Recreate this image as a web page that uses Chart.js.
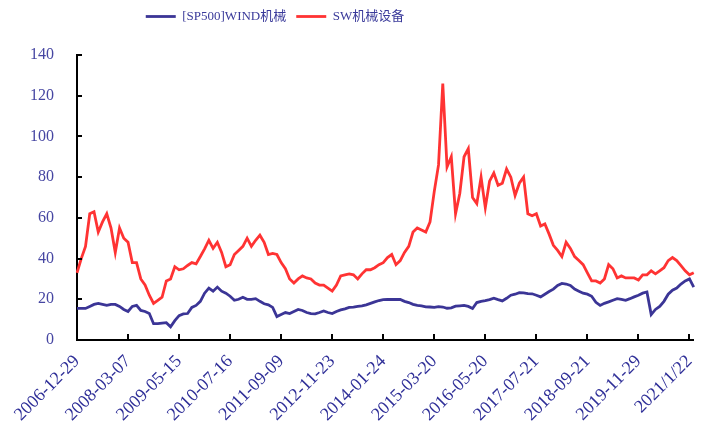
<!DOCTYPE html>
<html>
<head>
<meta charset="utf-8">
<script src="https://cdn.jsdelivr.net/npm/chart.js@4.4.1/dist/chart.umd.min.js"></script>
<style>
  html, body { margin: 0; padding: 0; background: #fff; }
  #wrap { width: 712px; height: 430px; }
</style>
</head>
<body>
<div id="wrap"><canvas id="chart"></canvas></div>
<script>
// tick dates, one every 12 samples
const tickDates = ['2006-12-29', '2008-03-07', '2009-05-15', '2010-07-16', '2011-09-09', '2012-11-23',
  '2014-01-24', '2015-03-20', '2016-05-20', '2017-07-21', '2018-09-21', '2019-11-29', '2021/1/22'];
const stepsPerTick = 12;
const yTicks = [0, 20, 40, 60, 80, 100, 120, 140];

const windJixie = [
  15.5, 15.5, 15.5, 16.5, 17.5, 18, 17.5, 17, 17.5, 17.5, 16.5, 15,
  14, 16.5, 17, 14.5, 14, 13, 8, 8, 8.3, 8.5, 6.5, 9.5,
  12, 12.8, 13, 16, 17, 19, 23, 25.5, 24, 26, 24, 23,
  21.5, 19.5, 20, 21, 20, 20, 20.3, 19, 17.8, 17.3, 16, 11.5,
  12.5, 13.5, 13, 14, 15, 14.5, 13.5, 13, 12.8, 13.5, 14.3, 13.5,
  13, 14, 14.8, 15.3, 16, 16.2, 16.5, 16.8, 17.3, 18, 18.7, 19.4,
  19.8, 19.9, 19.9, 19.9, 19.9, 19, 18.4, 17.5, 17, 16.8, 16.3, 16.2,
  16, 16.4, 16.2, 15.6, 15.8, 16.6, 16.8, 17, 16.5, 15.5, 18.4, 19,
  19.3, 19.8, 20.5, 19.8, 19.2, 20.5, 22, 22.5, 23.3, 23.2, 22.8, 22.7,
  22, 21.2, 22.5, 23.8, 25, 26.8, 27.8, 27.5, 26.8, 25, 24, 23,
  22.5, 21.5, 18.5, 17, 18, 18.7, 19.5, 20.3, 20, 19.5, 20.3, 21.2,
  22, 23, 23.6, 12.5, 15, 16.5, 19, 22.5, 24.5, 25.5, 27.5, 29,
  30, 26
];

const swJixie = [
  33, 40, 46, 62, 63, 53, 58, 62, 55, 43, 55, 50,
  48, 38, 38, 30, 27, 22, 18, 19.5, 21, 29, 30, 36,
  34.5, 35, 36.6, 38, 37.4, 41, 44.8, 49, 45, 48, 43, 36,
  37, 42, 44, 46, 50, 46, 49, 51.5, 48, 42, 42.5, 42,
  38, 35, 30, 28, 30, 31.5, 30.5, 30, 28, 27, 27, 25.5,
  24, 27, 31.5, 32, 32.5, 32, 30, 32.5, 34.5, 34.5, 35.5, 37,
  38, 40.5, 42, 37, 39, 43, 46, 53, 55, 54, 53, 58,
  73, 86, 126, 85, 90, 62, 72, 90, 94, 70, 67, 80,
  65, 78, 82, 76, 77, 84, 80, 71, 77, 80, 62, 61,
  62, 56, 57, 52, 46.5, 44, 41, 48, 45, 41, 39, 37,
  33, 29, 29, 28, 30, 37, 35, 30.5, 31.5, 30.5, 30.5, 30.5,
  29.5, 32, 32, 34, 32.5, 34, 35.5, 39, 40.5, 39, 36.5, 34,
  32, 33
];

const labels = windJixie.map((v, i) => i % stepsPerTick === 0 ? tickDates[i / stepsPerTick] : '');

// legend sits left of centre and leaves a gap above the plot
const legendPlace = {
  id: 'legendPlace',
  beforeInit(chart) {
    const legend = chart.legend;
    const fit = legend.fit;
    legend.fit = function () {
      fit.call(this);
      this.height += 22;
    };
  },
  afterUpdate(chart) {
    chart.legend.right -= 162;
    chart.legend.adjustHitBoxes();
  }
};

// inward tick marks like the original
const innerTicks = {
  id: 'innerTicks',
  afterDraw(chart) {
    const { ctx, chartArea, scales } = chart;
    ctx.save();
    ctx.strokeStyle = '#000';
    ctx.lineWidth = 2;
    ctx.beginPath();
    scales.y.ticks.forEach((t, i) => {
      const py = Math.round(scales.y.getPixelForTick(i));
      ctx.moveTo(chartArea.left, py);
      ctx.lineTo(chartArea.left + 5, py);
    });
    scales.x.ticks.forEach((t) => {
      if (!labels[t.value] || t.value === 0) return;
      const px = Math.round(scales.x.getPixelForValue(t.value));
      ctx.moveTo(px, chartArea.bottom);
      ctx.lineTo(px, chartArea.bottom - 6);
    });
    ctx.stroke();
    ctx.restore();
  }
};

new Chart(document.getElementById('chart'), {
  type: 'line',
  data: {
    labels: labels,
    datasets: [{
      label: '[SP500]WIND机械',
      data: windJixie,
      borderColor: '#3b3596',
      backgroundColor: '#3b3596',
      borderWidth: 2.8,
      pointRadius: 0,
      tension: 0
    }, {
      label: 'SW机械设备',
      data: swJixie,
      borderColor: '#ff3333',
      backgroundColor: '#ff3333',
      borderWidth: 2.8,
      pointRadius: 0,
      tension: 0
    }]
  },
  options: {
    responsive: true,
    maintainAspectRatio: false,
    animation: false,
    layout: { padding: { top: 0, right: 0, left: 0, bottom: 0 } },
    plugins: {
      tooltip: { enabled: false },
      legend: {
        position: 'top',
        labels: {
          usePointStyle: true,
          pointStyle: 'line',
          pointStyleWidth: 30,
          boxHeight: 13,
          padding: 10,
          color: '#3a3a9a',
          font: { family: "'Liberation Serif', 'Noto Sans CJK SC', serif", size: 13 }
        }
      }
    },
    scales: {
      x: {
        type: 'category',
        grid: { display: false },
        border: { display: true, color: '#000', width: 2 },
        afterFit: (scale) => { scale.height = 90; },
        ticks: {
          autoSkip: false,
          maxRotation: 45,
          minRotation: 45,
          padding: 3,
          color: '#2f2f98',
          font: { family: "'Liberation Serif', serif", size: 18 },
          callback: function (value) { return labels[value]; }
        }
      },
      y: {
        min: 0,
        max: 140,
        afterBuildTicks: (scale) => { scale.ticks = yTicks.map(v => ({ value: v })); },
        afterFit: (scale) => { scale.width = 77; },
        grid: { display: false },
        border: { display: true, color: '#000', width: 2 },
        ticks: {
          padding: 15,
          color: '#4646a2',
          font: { family: "'Liberation Serif', serif", size: 16 }
        }
      }
    }
  },
  plugins: [legendPlace, innerTicks]
});
</script>
</body>
</html>
